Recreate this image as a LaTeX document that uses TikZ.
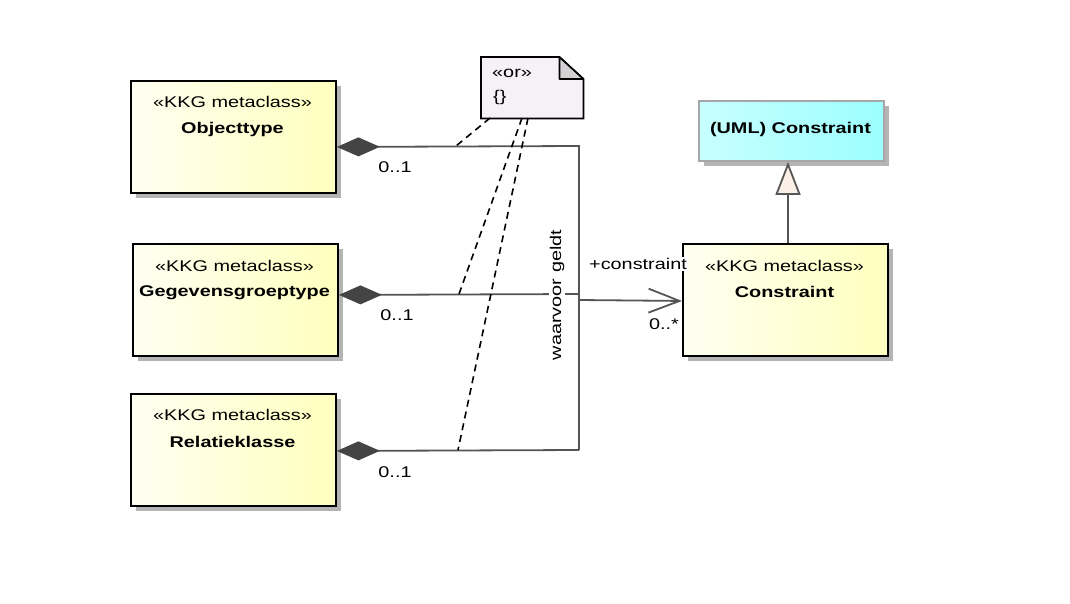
\documentclass[tikz,border=0pt]{standalone}
\usepackage{fontspec}
\setmainfont{Liberation Sans}[FakeStretch=1.28]
\usetikzlibrary{shadows,arrows.meta}
\definecolor{lineC}{HTML}{555555}
\definecolor{diaC}{HTML}{444444}
\definecolor{yelL}{HTML}{FFFFF2}
\definecolor{yelR}{HTML}{FFFFBE}
\definecolor{cyaL}{HTML}{C8FFFF}
\definecolor{cyaR}{HTML}{9CFFFF}
\definecolor{noteC}{HTML}{F6F1F6}
\definecolor{foldC}{HTML}{D4D0D4}
\definecolor{triC}{HTML}{FAF0E6}
\definecolor{shadC}{HTML}{B4B4B4}
\begin{document}
\begin{tikzpicture}[x=1pt,y=-1pt,
  font=\fontsize{15.5}{18}\selectfont,
  classbox/.style={draw=black, line width=1.9pt, left color=yelL, right color=yelR,
    minimum width=205pt, minimum height=112pt, anchor=north west, inner sep=0pt,
    general shadow={fill=shadC, shadow xshift=5pt, shadow yshift=-5pt}},
  umlbox/.style={draw=black!35, line width=1.9pt, left color=cyaL, right color=cyaR,
    minimum width=185pt, minimum height=60pt, anchor=north west, inner sep=0pt,
    general shadow={fill=shadC, shadow xshift=5pt, shadow yshift=-5pt}},
  stereo/.style={inner sep=0pt},
  cname/.style={inner sep=0pt, font=\fontsize{15.5}{18}\selectfont\bfseries},
  assoc/.style={draw=lineC, line width=1.8pt},
  comp/.style={assoc, {Diamond[length=43pt,width=19pt,fill=diaC,color=diaC]}-},
  anchorline/.style={draw=black, line width=1.6pt, dash pattern=on 7pt off 5pt},
  mult/.style={inner sep=1pt},
]
\useasboundingbox (0,0) rectangle (1070,603);

% classes
\node[classbox] (obj) at (130,80) {};
\node[stereo] (objS) at (232.5,102) {«KKG metaclass»};
\node[cname] (objN) at (232.5,129) {Objecttype};

\node[classbox] (geg) at (132,243) {};
\node[stereo] (gegS) at (234.5,266) {«KKG metaclass»};
\node[cname] (gegN) at (234.5,293) {Gegevensgroeptype};

\node[classbox] (rel) at (130,393) {};
\node[stereo] (relS) at (232.5,415) {«KKG metaclass»};
\node[cname] (relN) at (232.5,442) {Relatieklasse};

\node[classbox] (con) at (682,243) {};
\node[stereo] (conS) at (784.5,266) {«KKG metaclass»};
\node[cname] (conN) at (784.5,292) {Constraint};

\node[umlbox] (uml) at (698,100) {};
\node[cname] (umlN) at (790.5,129) {(UML) Constraint};

% note
\node[minimum width=102pt, minimum height=61pt, anchor=north west, inner sep=0pt] (note) at (481,57) {};
\filldraw[draw=black, fill=noteC, line width=1.7pt]
  (note.north west) -- ([xshift=-24pt]note.north east) -- ([yshift=-22pt]note.north east)
  -- (note.south east) -- (note.south west) -- cycle;
\filldraw[draw=black, fill=foldC, line width=1.7pt, line join=round]
  ([xshift=-24pt]note.north east) -- ([xshift=-24pt,yshift=-22pt]note.north east)
  -- ([yshift=-22pt]note.north east) -- cycle;
\node[inner sep=0pt, anchor=west] (noteA) at (492,73) {«or»};
\node[inner sep=0pt, anchor=west] (noteB) at (493,97) {\{\}};

% junction coordinates
\coordinate (j1) at (579,146);
\coordinate (j2) at (579,294);
\coordinate (j3) at (579,450);
\coordinate (j4) at (579,300);

% compositions
\draw[comp] ([yshift=-10pt]obj.east) -- (j1) -- (j3);
\draw[comp] ([yshift=5pt]geg.east) -- (j2);
\draw[comp] ([yshift=-1pt]rel.east) -- (j3);

% association to Constraint
\draw[assoc, -{Straight Barb[length=31pt,width=24pt,line width=1.8pt]}] (j4) -- ([yshift=-1pt]con.west);

% generalization
\draw[assoc, -{Triangle[open,length=33pt,width=25pt,fill=triC]}] (con.north -| 788,0) -- (uml.south -| 788,0);

% labels
\node[mult, fill=white, rotate=90] (role) at (557,295) {waarvoor geldt};
\node[mult, fill=white] (plus) at (638,264) {+constraint};
\node[mult] (m0) at (664,324) {0..*};
\node[mult] (m1) at (395,167) {0..1};
\node[mult] (m2) at (397,315) {0..1};
\node[mult] (m3) at (395,472) {0..1};

% note anchors
\coordinate (n1) at (490,118);
\coordinate (n2) at (522,118);
\coordinate (n3) at (528,118);
\coordinate (e1) at (456,146);
\coordinate (e2) at (459,294);
\coordinate (e3) at (458,450);
\draw[anchorline] (n1) -- (e1);
\draw[anchorline] (n2) -- (e2);
\draw[anchorline] (n3) -- (e3);
\end{tikzpicture}
\end{document}
